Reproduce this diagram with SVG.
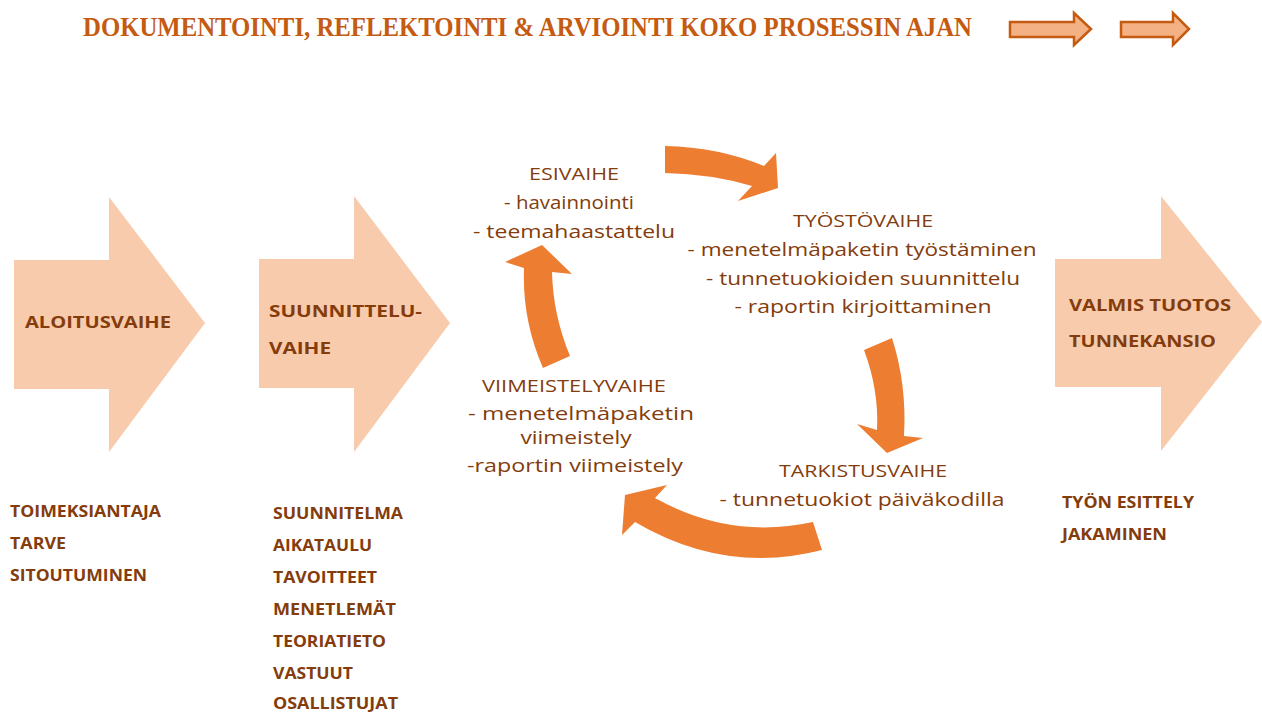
<svg xmlns="http://www.w3.org/2000/svg" width="1262" height="713" viewBox="0 0 1262 713">
<style>
.big{fill:#F8CBAD}
.small{fill:#F4B183;stroke:#C55A11;stroke-width:2.5;stroke-linejoin:miter}
.cyc{fill:#ED7D31}
.title{font-family:"Liberation Serif",serif;font-weight:bold;font-size:27px;fill:#C55A11}
.lab{font-family:"Open Sans","Liberation Sans",sans-serif;font-weight:bold;font-size:16px;fill:#843C0C}
.hd{font-family:"Open Sans","Liberation Sans",sans-serif;font-size:16px;fill:#843C0C;text-anchor:middle}
.tx{font-family:"Open Sans","Liberation Sans",sans-serif;font-size:18px;fill:#843C0C;text-anchor:middle}
</style>
<rect width="1262" height="713" fill="#ffffff"/>
<g id="title">
<text class="title" x="83" y="36" textLength="889" lengthAdjust="spacingAndGlyphs">DOKUMENTOINTI, REFLEKTOINTI &amp; ARVIOINTI KOKO PROSESSIN AJAN</text>
<polygon class="small" points="1010,22 1074,22 1074,13 1091,29 1074,45 1074,37 1010,37"/>
<polygon class="small" points="1121,22 1173,22 1173,13 1189,29 1173,45 1173,37 1121,37"/>
</g>
<g id="aloitus">
<polygon class="big" points="14,260 109,260 109,197 205,323 109,452 109,389 14,389"/>
<text class="lab" x="25" y="328" textLength="146" lengthAdjust="spacingAndGlyphs">ALOITUSVAIHE</text>
</g>
<g id="suunnittelu">
<polygon class="big" points="259,259 354,259 354,196 450,323 354,452 354,388 259,388"/>
<text class="lab" x="269" y="317" textLength="153" lengthAdjust="spacingAndGlyphs">SUUNNITTELU-</text>
<text class="lab" x="269" y="354" textLength="62" lengthAdjust="spacingAndGlyphs">VAIHE</text>
</g>
<g id="valmis">
<polygon class="big" points="1055,259 1161,259 1161,196 1262,322 1161,451 1161,387 1055,387"/>
<text class="lab" x="1069" y="311" textLength="162" lengthAdjust="spacingAndGlyphs">VALMIS TUOTOS</text>
<text class="lab" x="1069" y="347" textLength="147" lengthAdjust="spacingAndGlyphs">TUNNEKANSIO</text>
</g>
<g id="connectors">
<path class="cyc" d="M665,146 Q718,147 764,166 L776,153 L778,188 L738,201 L752,186 Q712,174 665,173 Z"/>
<path class="cyc" d="M864,350 L892,338 Q907,385 904,436 L923,438 L887,453 L857,424 L877,430 Q879,390 864,350 Z"/>
<path class="cyc" d="M813,522 Q730,540 655,498 L667,485 L625,495 L622,535 L635,522 Q725,575 822,550 Z"/>
<path class="cyc" d="M543,368 Q522,320 524,268 L505,262 L542,245 L572,274 L552,272 Q553,315 570,356 Z"/>
</g>
<g id="esivaihe">
<text class="hd" x="574" y="180" textLength="90" lengthAdjust="spacingAndGlyphs">ESIVAIHE</text>
<text class="tx" x="569" y="209" textLength="130" lengthAdjust="spacingAndGlyphs">- havainnointi</text>
<text class="tx" x="574" y="238" textLength="202" lengthAdjust="spacingAndGlyphs">- teemahaastattelu</text>
</g>
<g id="tyostovaihe">
<text class="hd" x="863" y="227" textLength="140" lengthAdjust="spacingAndGlyphs">TYÖSTÖVAIHE</text>
<text class="tx" x="862" y="256" textLength="349" lengthAdjust="spacingAndGlyphs">- menetelmäpaketin työstäminen</text>
<text class="tx" x="863" y="285" textLength="314" lengthAdjust="spacingAndGlyphs">- tunnetuokioiden suunnittelu</text>
<text class="tx" x="863" y="313" textLength="257" lengthAdjust="spacingAndGlyphs">- raportin kirjoittaminen</text>
</g>
<g id="tarkistusvaihe">
<text class="hd" x="863" y="477" textLength="168" lengthAdjust="spacingAndGlyphs">TARKISTUSVAIHE</text>
<text class="tx" x="862" y="506" textLength="285" lengthAdjust="spacingAndGlyphs">- tunnetuokiot päiväkodilla</text>
</g>
<g id="viimeistelyvaihe">
<text class="hd" x="574" y="392" textLength="184" lengthAdjust="spacingAndGlyphs">VIIMEISTELYVAIHE</text>
<text class="tx" x="581" y="420" textLength="226" lengthAdjust="spacingAndGlyphs">- menetelmäpaketin</text>
<text class="tx" x="576" y="444" textLength="111" lengthAdjust="spacingAndGlyphs">viimeistely</text>
<text class="tx" x="575" y="472" textLength="216" lengthAdjust="spacingAndGlyphs">-raportin viimeistely</text>
</g>
<g id="lista-aloitus">
<text class="lab" x="10" y="517" textLength="151" lengthAdjust="spacingAndGlyphs">TOIMEKSIANTAJA</text>
<text class="lab" x="10" y="549" textLength="56" lengthAdjust="spacingAndGlyphs">TARVE</text>
<text class="lab" x="10" y="581" textLength="137" lengthAdjust="spacingAndGlyphs">SITOUTUMINEN</text>
</g>
<g id="lista-suunnittelu">
<text class="lab" x="273" y="519" textLength="130" lengthAdjust="spacingAndGlyphs">SUUNNITELMA</text>
<text class="lab" x="273" y="551" textLength="99" lengthAdjust="spacingAndGlyphs">AIKATAULU</text>
<text class="lab" x="273" y="583" textLength="104" lengthAdjust="spacingAndGlyphs">TAVOITTEET</text>
<text class="lab" x="273" y="615" textLength="123" lengthAdjust="spacingAndGlyphs">MENETLEMÄT</text>
<text class="lab" x="273" y="647" textLength="113" lengthAdjust="spacingAndGlyphs">TEORIATIETO</text>
<text class="lab" x="273" y="679" textLength="80" lengthAdjust="spacingAndGlyphs">VASTUUT</text>
<text class="lab" x="273" y="709" textLength="125" lengthAdjust="spacingAndGlyphs">OSALLISTUJAT</text>
</g>
<g id="lista-valmis">
<text class="lab" x="1062" y="508" textLength="132" lengthAdjust="spacingAndGlyphs">TYÖN ESITTELY</text>
<text class="lab" x="1062" y="540" textLength="105" lengthAdjust="spacingAndGlyphs">JAKAMINEN</text>
</g>
</svg>
